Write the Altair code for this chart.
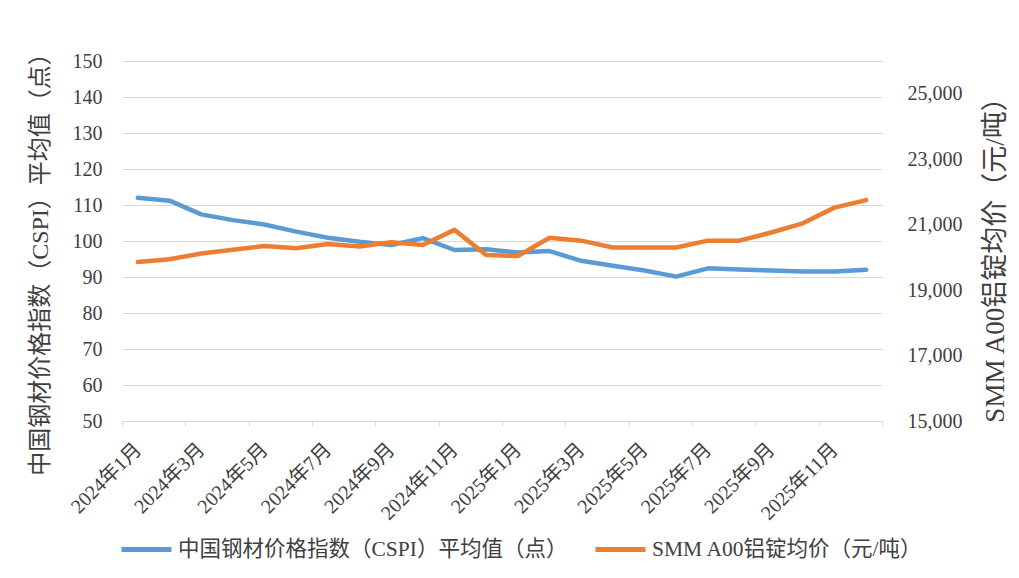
import json
import altair as alt
import pandas as pd

months = ["2024年1月", "2024年2月", "2024年3月", "2024年4月", "2024年5月", "2024年6月",
          "2024年7月", "2024年8月", "2024年9月", "2024年10月", "2024年11月", "2024年12月",
          "2025年1月", "2025年2月", "2025年3月", "2025年4月", "2025年5月", "2025年6月",
          "2025年7月", "2025年8月", "2025年9月", "2025年10月", "2025年11月", "2025年12月"]
cspi = [112.0, 111.2, 107.4, 105.8, 104.6, 102.6, 100.9, 99.8, 98.9, 100.8, 97.5, 97.7,
        96.8, 97.2, 94.5, 93.1, 91.8, 90.1, 92.4, 92.1, 91.8, 91.5, 91.5, 92.0]
smm = [19860, 19940, 20120, 20230, 20350, 20280, 20410, 20330, 20460, 20380, 20840, 20070,
       20040, 20600, 20510, 20300, 20300, 20300, 20510, 20510, 20760, 21040, 21520, 21750]

S1 = "中国钢材价格指数（CSPI）平均值（点）"
S2 = "SMM A00铝锭均价（元/吨）"
left_ticks = [50, 60, 70, 80, 90, 100, 110, 120, 130, 140, 150]
right_ticks = [15000, 17000, 19000, 21000, 23000, 25000]

rows = []
for i, (m, a, b) in enumerate(zip(months, cspi, smm)):
    rows.append({"idx": i, "month": m, "series": S1, "value": a})
    rows.append({"idx": i, "month": m, "series": S2, "value": b})
df = pd.DataFrame(rows)

FONT = "Liberation Serif, Noto Sans CJK SC"
TXT = "#404040"
GRID = "#d9d9d9"

xscale = alt.Scale(domain=[-0.5, len(months) - 0.5], nice=False, zero=False)
label_vals = list(range(0, len(months), 2))
tick_vals = [v - 0.5 for v in range(0, len(months) + 1, 2)]
label_expr = json.dumps(months, ensure_ascii=False) + "[datum.value]"

label_axis = alt.Axis(values=label_vals, labelExpr=label_expr, labelAngle=-45,
                      labelAlign="right", labelBaseline="middle", labelPadding=25,
                      ticks=False, domain=False, grid=False, orient="bottom", title=None,
                      labelFontSize=20, labelColor=TXT, labelFont=FONT,
                      labelOverlap=False, labelFlush=False, labelBound=False)
tick_axis = alt.Axis(values=tick_vals, labels=False, ticks=True, tickSize=5,
                     tickColor=GRID, tickWidth=1, domain=True, domainColor=GRID,
                     domainWidth=1, grid=False, orient="bottom", title=None)

color = alt.Color("series:N",
                  scale=alt.Scale(domain=[S1, S2], range=["#5B9BD5", "#ED7D31"]),
                  legend=alt.Legend(orient="none", legendX=-3, legendY=461,
                                    direction="horizontal", title=None,
                                    symbolType="stroke", symbolSize=2500,
                                    symbolStrokeWidth=5, labelFontSize=21.5,
                                    labelFont=FONT, labelColor=TXT, labelOffset=4,
                                    columnPadding=17, labelLimit=600))

base = alt.Chart(df)

blue = base.transform_filter(alt.datum.series == S1).mark_line(
    strokeWidth=4.5, strokeJoin="round", strokeCap="round"
).encode(
    x=alt.X("idx:Q", scale=xscale, axis=label_axis),
    y=alt.Y("value:Q", scale=alt.Scale(domain=[50, 150], nice=False, zero=False),
            axis=alt.Axis(values=left_ticks, grid=True, gridColor=GRID, domain=False,
                          ticks=False, labelPadding=20, labelFontSize=20,
                          labelFont=FONT, labelColor=TXT, title=S1,
                          titleFontSize=24, titleFont=FONT, titleColor=TXT,
                          titleFontWeight="normal", titleAngle=270, titleX=-70,
                          titleY=197, titleBaseline="bottom", titleAlign="center")),
    color=color,
)

orange = base.transform_filter(alt.datum.series == S2).mark_line(
    strokeWidth=4.5, strokeJoin="round", strokeCap="round"
).encode(
    x=alt.X("idx:Q", scale=xscale, axis=tick_axis),
    y=alt.Y("value:Q", scale=alt.Scale(domain=[15000, 26000], nice=False, zero=False),
            axis=alt.Axis(values=right_ticks, labelExpr="format(datum.value, ',.0f')",
                          orient="right", grid=False,
                          domain=False, ticks=False, labelPadding=25, labelFontSize=20,
                          labelFont=FONT, labelColor=TXT, title=S2,
                          titleFontSize=27, titleFont=FONT, titleColor=TXT,
                          titleFontWeight="normal", titleAngle=270, titleX=127,
                          titleY=192, titleBaseline="bottom", titleAlign="center")),
    color=color,
)

chart = alt.layer(blue, orange).resolve_scale(y="independent").resolve_axis(
    x="independent"
).properties(
    width=760, height=360,
    autosize=alt.AutoSizeParams(type="none"),
    padding={"left": 114, "top": 53, "right": 129, "bottom": 149},
    background="white",
).configure_view(stroke=None)

chart.save("out.html", embed_options={"renderer": "svg", "actions": False})
